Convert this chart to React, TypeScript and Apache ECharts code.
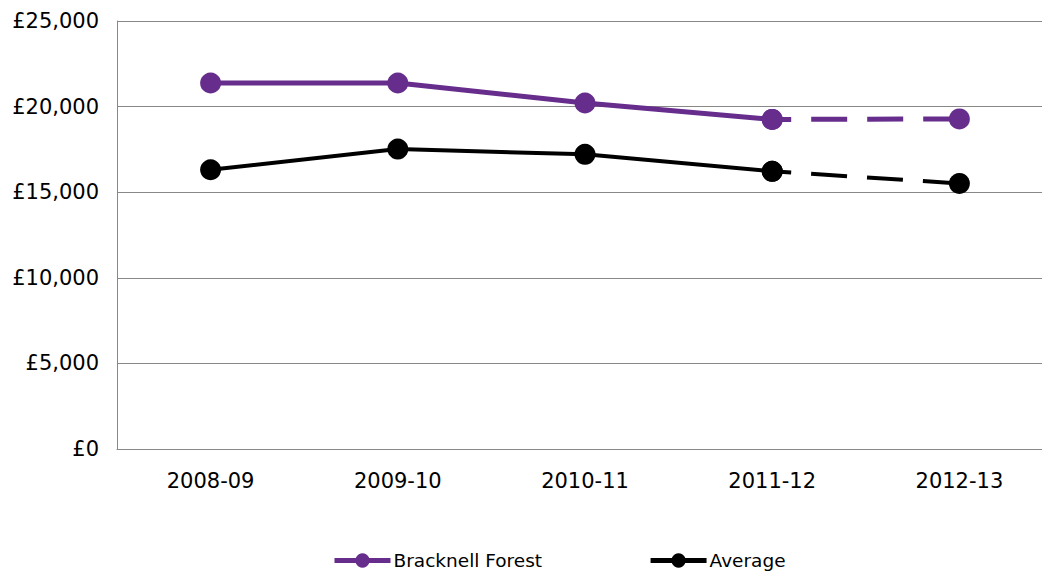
import React, { useEffect, useRef } from "react";
import * as echarts from "echarts";

const categories = ["2008-09", "2009-10", "2010-11", "2011-12", "2012-13"];
const bracknellActual = [21380, 21380, 20210, 19250, null];
const bracknellProjected = [null, null, null, 19250, 19280];
const averageActual = [16310, 17520, 17210, 16220, null];
const averageProjected = [null, null, null, 16220, 15510];
const yTicks = { min: 0, max: 25000, interval: 5000 };

const PURPLE = "#662d8c";
const BLACK = "#000000";
const FONT = "DejaVu Sans";

export default function App() {
  const ref = useRef<HTMLDivElement>(null);
  useEffect(() => {
    if (!ref.current) return;
    const chart = echarts.init(ref.current, undefined, { renderer: "svg" });
    const dash = { type: [36, 20] as number[], dashOffset: 17 };
    chart.setOption({
      animation: false,
      backgroundColor: "#ffffff",
      textStyle: { fontFamily: FONT },
      grid: { left: 117, top: 21, width: 936, height: 428, containLabel: false },
      legend: {
        left: 327,
        top: 546,
        itemWidth: 56,
        itemHeight: 18,
        itemGap: 106,
        data: ["Bracknell Forest", "Average"],
        lineStyle: { width: 5 },
        textStyle: { fontFamily: FONT, fontSize: 18.5, color: "#000", padding: [0, 0, 0, -2] },
      },
      xAxis: {
        type: "category",
        data: categories,
        boundaryGap: true,
        axisLine: { show: true, lineStyle: { color: "#888888", width: 1 } },
        axisTick: { show: false },
        axisLabel: { fontFamily: FONT, fontSize: 21, color: "#000", margin: 21 },
        splitLine: { show: false },
      },
      yAxis: {
        type: "value",
        min: yTicks.min,
        max: yTicks.max,
        interval: yTicks.interval,
        axisLine: { show: true, lineStyle: { color: "#888888", width: 1 } },
        axisTick: { show: false },
        axisLabel: {
          fontFamily: FONT,
          fontSize: 21,
          color: "#000",
          margin: 18,
          formatter: (v: number) => "£" + v.toLocaleString("en-GB"),
        },
        splitLine: { show: true, lineStyle: { color: "#888888", width: 1 } },
      },
      series: [
        {
          name: "Bracknell Forest",
          type: "line",
          data: bracknellActual,
          symbol: "circle",
          symbolSize: 21,
          itemStyle: { color: PURPLE },
          lineStyle: { color: PURPLE, width: 5 },
          connectNulls: false,
          z: 3,
        },
        {
          name: "Bracknell Forest (projected)",
          type: "line",
          data: bracknellProjected,
          symbol: "circle",
          symbolSize: 21,
          itemStyle: { color: PURPLE },
          lineStyle: { color: PURPLE, width: 5, ...dash },
          z: 3,
        },
        {
          name: "Average",
          type: "line",
          data: averageActual,
          symbol: "circle",
          symbolSize: 21,
          itemStyle: { color: BLACK },
          lineStyle: { color: BLACK, width: 4 },
          z: 2,
        },
        {
          name: "Average (projected)",
          type: "line",
          data: averageProjected,
          symbol: "circle",
          symbolSize: 21,
          itemStyle: { color: BLACK },
          lineStyle: { color: BLACK, width: 4, ...dash },
          z: 2,
        },
      ],
    });
    return () => chart.dispose();
  }, []);
  return (
    <div
      style={{
        position: "fixed",
        left: 0,
        top: 0,
        width: 1042,
        height: 572,
        overflow: "hidden",
        background: "#fff",
      }}
    >
      <div ref={ref} style={{ width: 1060, height: 572 }} />
    </div>
  );
}
